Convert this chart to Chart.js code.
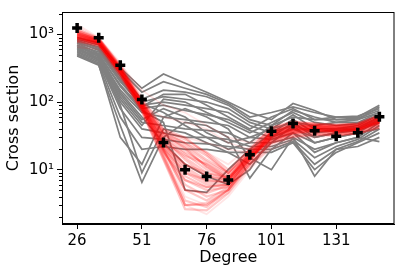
<!DOCTYPE html>
<html>
<head>
<meta charset="utf-8">
<script src="https://cdn.jsdelivr.net/npm/chart.js@4.4.1/dist/chart.umd.min.js"></script>
<style>
  html, body { margin: 0; padding: 0; background: #fff; }
  #c { display: block; }
</style>
</head>
<body>
<canvas id="c" width="403" height="272"></canvas>
<script>
/* cross section vs degree — measured points, prior runs (gray), posterior runs (red) */

const X_TICKS       = [0, 3, 6, 9, 12];
const X_TICK_LABELS = ['26', '51', '76', '101', '131'];
const Y_TICKS       = [10, 100, 1000];
const Y_TICK_LABELS = ['10¹', '10²', '10³'];

// black markers
const MEASURED = [1250, 896, 349, 109, 25.3, 10.0, 7.9, 7.0, 16.6, 36.9, 48.2, 37.7, 31.3, 35.2, 60.8];

// gray curves
const PRIOR_RUNS = [
  [900, 750, 320, 160, 260, 190, 140, 100, 70, 55, 95, 75, 55, 55, 85],
  [850, 700, 300, 140, 200, 160, 130, 95, 60, 70, 85, 70, 60, 60, 90],
  [800, 650, 260, 110, 150, 140, 120, 90, 55, 45, 60, 55, 60, 62, 80],
  [750, 600, 220, 100, 120, 110, 100, 80, 50, 40, 50, 45, 50, 55, 70],
  [700, 550, 200, 90, 100, 90, 80, 70, 45, 35, 45, 35, 40, 45, 65],
  [650, 500, 180, 80, 90, 75, 65, 55, 38, 30, 40, 30, 35, 40, 60],
  [600, 480, 150, 70, 60, 55, 50, 45, 30, 28, 35, 25, 30, 35, 55],
  [580, 450, 120, 50, 45, 40, 38, 35, 25, 25, 30, 20, 25, 30, 50],
  [560, 420, 100, 40, 35, 30, 30, 28, 22, 22, 28, 15, 22, 28, 45],
  [540, 400, 80, 30, 28, 25, 24, 22, 20, 20, 26, 12, 20, 26, 40],
  [520, 380, 60, 20, 22, 20, 20, 18, 18, 18, 25, 10, 18, 25, 35],
  [500, 360, 30, 12, 60, 80, 60, 40, 15, 10, 30, 8, 20, 22, 30],
  [480, 350, 45, 6.5, 30, 50, 45, 30, 7.5, 20, 35, 18, 25, 30, 26],
  [620, 420, 90, 9, 40, 35, 25, 18, 12, 25, 45, 25, 30, 35, 40],
  [700, 500, 140, 60, 25, 12, 8, 6, 10, 30, 50, 30, 35, 38, 50],
  [750, 520, 170, 75, 50, 5, 4.6, 10, 20, 35, 55, 35, 38, 40, 55],
  [680, 470, 130, 55, 80, 60, 35, 25, 30, 40, 65, 40, 40, 42, 60],
  [640, 440, 110, 45, 110, 100, 70, 50, 35, 50, 70, 50, 45, 48, 65],
  [820, 620, 240, 95, 70, 45, 30, 20, 25, 45, 75, 60, 50, 50, 70],
  [780, 580, 210, 85, 130, 130, 90, 60, 40, 60, 80, 55, 55, 58, 75],
];

// red curves (dense band)
const POSTERIOR_RUNS = [
  [1000, 800, 300, 90, 25, 12, 8, 7, 16, 32, 40, 40, 38, 40, 52],
  [950, 780, 290, 85, 30, 18, 12, 7.5, 15, 28, 34, 36, 34, 36, 46],
  [900, 760, 280, 80, 20, 5, 3.5, 5.5, 14, 36, 46, 44, 42, 44, 58],
  [1100, 820, 320, 95, 35, 25, 16, 9, 17, 30, 38, 42, 40, 42, 54],
  [850, 720, 270, 78, 16, 3.5, 2.8, 5, 13, 38, 48, 46, 45, 47, 62],
  [1050, 850, 330, 100, 38, 28, 18, 10, 20, 40, 50, 48, 46, 48, 64],
  [800, 700, 260, 75, 15, 3, 3.2, 5, 12, 25, 32, 34, 33, 35, 44],
  [1150, 870, 340, 105, 28, 15, 9, 7.5, 18, 34, 44, 45, 44, 46, 60],
  [920, 740, 285, 88, 22, 9, 6, 6, 15, 31, 39, 39, 37, 39, 51],
  [980, 790, 295, 92, 26, 16, 12, 8, 16, 27, 35, 38, 36, 38, 50],
  [870, 730, 275, 82, 18, 7, 5, 5.5, 14, 33, 42, 40, 38, 41, 55],
  [1020, 810, 310, 96, 32, 20, 11, 7, 17, 35, 43, 43, 41, 43, 56],
  [780, 690, 250, 72, 14, 2.6, 2.5, 4.5, 11, 24, 31, 33, 32, 34, 42],
  [1200, 880, 350, 110, 40, 30, 17, 9, 20, 42, 52, 48, 46, 48, 63],
  [940, 770, 290, 87, 23, 11, 7, 6.5, 15, 29, 37, 41, 40, 41, 54],
  [820, 710, 265, 80, 19, 6, 4, 5, 13, 26, 34, 36, 35, 37, 47],
  [1080, 840, 325, 98, 33, 22, 13, 8.5, 18, 37, 47, 46, 43, 45, 59],
  [960, 780, 300, 90, 24, 10, 6.5, 6.5, 16, 32, 40, 40, 39, 40, 52],
  [890, 750, 280, 84, 21, 9, 7, 6.8, 14.5, 30, 38, 39, 37, 39, 50],
  [1010, 800, 305, 93, 27, 14, 8, 7, 16.5, 33, 41, 42, 40, 42, 54],
  [860, 740, 270, 80, 17, 3, 3, 5, 12, 26, 35, 37, 36, 38, 48],
  [1130, 860, 335, 102, 36, 24, 14, 9, 19, 37, 45, 44, 42, 44, 57],
  [930, 760, 288, 86, 21, 8, 5.5, 6, 15, 31, 39, 40, 38, 40, 51],
  [990, 790, 298, 91, 29, 17, 10, 7.5, 16, 33, 40, 41, 39, 41, 53],
  [1060, 830, 315, 94, 24, 12, 9, 7.2, 17, 36, 44, 43, 42, 44, 58],
  [880, 745, 278, 83, 19, 5, 4.5, 5.8, 14, 28, 36, 38, 37, 39, 50],
  [1040, 820, 312, 97, 34, 21, 11, 7.5, 18, 35, 42, 44, 43, 45, 57],
  [910, 755, 284, 86, 20, 7, 5.5, 6, 14.5, 30, 37, 38, 37, 39, 50],
];

// faint pink strays
const POSTERIOR_STRAYS = [
  [1400, 900, 380, 120, 40, 25, 18, 12, 22, 42, 50, 48, 46, 48, 62],
  [700, 650, 240, 90, 60, 50, 40, 25, 20, 25, 30, 32, 34, 36, 42],
  [1300, 880, 360, 150, 90, 70, 45, 30, 25, 35, 45, 45, 44, 46, 60],
  [750, 680, 250, 70, 14, 3, 2.2, 4, 10, 22, 30, 32, 33, 34, 42],
  [1000, 800, 300, 80, 35, 30, 25, 20, 18, 28, 36, 38, 36, 38, 48],
  [650, 600, 230, 75, 20, 4, 3, 4.5, 12, 20, 28, 30, 32, 34, 40],
];

const toPts = arr => arr.map((v, i) => ({ x: i, y: v }));
const FONT = 'DejaVu Sans';

const datasets = [];
datasets.push({
  data: toPts(MEASURED), showLine: false, order: 0,
  pointStyle: 'cross', pointRadius: 5, pointBorderWidth: 3.5,
  pointBorderColor: '#000', pointBackgroundColor: '#000',
});
POSTERIOR_RUNS.forEach(r => datasets.push({
  data: toPts(r), order: 1, borderColor: 'rgba(255,0,0,0.22)', borderWidth: 2.2,
  pointRadius: 0, tension: 0,
}));
POSTERIOR_STRAYS.forEach(r => datasets.push({
  data: toPts(r), order: 1, borderColor: 'rgba(255,0,0,0.1)', borderWidth: 1.8,
  pointRadius: 0, tension: 0,
}));
PRIOR_RUNS.forEach(r => datasets.push({
  data: toPts(r), order: 2, borderColor: '#808080', borderWidth: 1.7,
  pointRadius: 0, tension: 0,
}));

// top/right spines + minor log ticks
const framePlugin = {
  id: 'frame',
  afterDraw(chart) {
    const { ctx, chartArea: a, scales } = chart;
    const y = scales.y;
    ctx.save();
    ctx.strokeStyle = '#000';
    ctx.lineWidth = 1;
    ctx.beginPath();
    for (let d = 0; d <= 3; d++) {
      for (let k = 2; k <= 9; k++) {
        const v = k * Math.pow(10, d);
        if (v < y.min || v > y.max) continue;
        const py = Math.round(y.getPixelForValue(v)) + 0.5;
        ctx.moveTo(a.left - 3, py);
        ctx.lineTo(a.left, py);
      }
    }
    ctx.stroke();
    ctx.strokeRect(a.left + 0.5, a.top + 0.5, a.right - a.left - 1, a.bottom - a.top - 1);
    ctx.restore();
  }
};

new Chart(document.getElementById('c'), {
  type: 'line',
  data: { datasets },
  options: {
    responsive: false, animation: false, devicePixelRatio: 1,
    layout: { padding: { top: 7, right: 6, left: 0, bottom: 0 } },
    plugins: { legend: { display: false }, tooltip: { enabled: false } },
    scales: {
      x: {
        type: 'linear', min: -0.7, max: 14.7,
        afterBuildTicks: s => { s.ticks = X_TICKS.map(v => ({ value: v })); },
        afterFit: s => { s.height = 48; },
        ticks: {
          autoSkip: false, maxRotation: 0, padding: 3, color: '#000',
          font: { family: FONT, size: 15 },
          callback: (v, i) => X_TICK_LABELS[i],
        },
        grid: { drawOnChartArea: false, tickLength: 5, tickColor: '#000' },
        border: { color: '#000', width: 1 },
        title: { display: true, text: 'Degree', color: '#000',
                 font: { family: FONT, size: 16 }, padding: { top: 0, bottom: 5 } },
      },
      y: {
        type: 'logarithmic', min: 1.57, max: 2150,
        afterBuildTicks: s => { s.ticks = Y_TICKS.map(v => ({ value: v })); },
        afterFit: s => { s.width = 62; },
        ticks: {
          padding: 3, color: '#000', font: { family: FONT, size: 15 },
          callback: (v, i) => Y_TICK_LABELS[i],
        },
        grid: { drawOnChartArea: false, tickLength: 5, tickColor: '#000' },
        border: { color: '#000', width: 1 },
        title: { display: true, text: 'Cross section', color: '#000',
                 font: { family: FONT, size: 16 }, padding: { top: 4, bottom: 0 } },
      },
    },
  },
  plugins: [framePlugin],
});
</script>
</body>
</html>
